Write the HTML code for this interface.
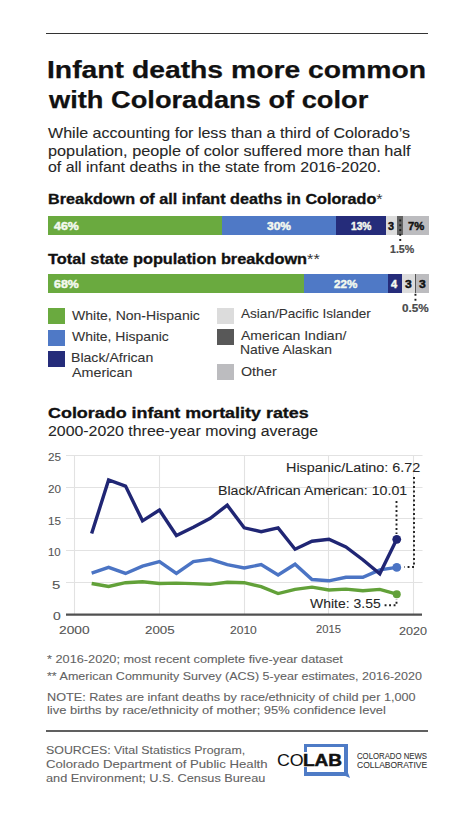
<!DOCTYPE html>
<html><head><meta charset="utf-8"><style>
html,body{margin:0;padding:0;background:#fff;width:474px;height:818px;overflow:hidden;position:relative}
body{font-family:"Liberation Sans",sans-serif}
.t{position:absolute;white-space:nowrap;line-height:0;transform-origin:0 0}
.r{position:absolute}
</style></head><body>
<div class="r" style="left:46.0px;top:32.6px;width:381.50px;height:1.30px;background:#333;"></div>
<div class="r" style="left:47.8px;top:216.3px;width:174.60px;height:18.90px;background:#6aaa3f;"></div>
<div class="r" style="left:221.7px;top:216.3px;width:114.80px;height:18.90px;background:#4f79c6;"></div>
<div class="r" style="left:335.8px;top:216.3px;width:51.30px;height:18.90px;background:#252c7a;"></div>
<div class="r" style="left:386.4px;top:216.3px;width:11.60px;height:18.90px;background:#dcdcdc;"></div>
<div class="r" style="left:397.3px;top:216.3px;width:6.50px;height:18.90px;background:#626262;"></div>
<div class="r" style="left:403.1px;top:216.3px;width:26.20px;height:18.90px;background:#bcbcbf;"></div>
<div class="r" style="left:47.8px;top:274.2px;width:257.30px;height:18.50px;background:#6aaa3f;"></div>
<div class="r" style="left:304.4px;top:274.2px;width:83.80px;height:18.50px;background:#4f79c6;"></div>
<div class="r" style="left:387.5px;top:274.2px;width:14.70px;height:18.50px;background:#252c7a;"></div>
<div class="r" style="left:401.5px;top:274.2px;width:14.20px;height:18.50px;background:#dcdcdc;"></div>
<div class="r" style="left:414.8px;top:274.2px;width:2.20px;height:18.50px;background:#555;"></div>
<div class="r" style="left:416.3px;top:274.2px;width:12.50px;height:18.50px;background:#bcbcbf;"></div>
<div class="r" style="left:47.8px;top:308.0px;width:17.00px;height:16.00px;background:#6aaa3f;"></div>
<div class="r" style="left:47.8px;top:329.5px;width:17.00px;height:16.00px;background:#4f79c6;"></div>
<div class="r" style="left:47.8px;top:351.0px;width:17.00px;height:16.00px;background:#252c7a;"></div>
<div class="r" style="left:216.6px;top:307.8px;width:17.00px;height:16.00px;background:#dcdcdc;"></div>
<div class="r" style="left:216.6px;top:328.8px;width:17.00px;height:16.00px;background:#585858;"></div>
<div class="r" style="left:216.6px;top:363.6px;width:17.00px;height:16.00px;background:#bcbcbf;"></div>
<div class="r" style="left:303.6px;top:743.7px;width:44.10px;height:3.30px;background:#4e7bc6;"></div>
<div class="r" style="left:344.2px;top:743.7px;width:3.50px;height:31.90px;background:#4e7bc6;"></div>
<div class="r" style="left:303.6px;top:772.1px;width:44.10px;height:3.50px;background:#4e7bc6;"></div>
<div class="r" style="left:303.6px;top:743.7px;width:3.30px;height:8.80px;background:#4e7bc6;"></div>
<div class="r" style="left:303.6px;top:767.0px;width:3.30px;height:8.60px;background:#4e7bc6;"></div>
<div class="r" style="left:46.4px;top:729.9px;width:381.60px;height:2.10px;background:#606060;"></div>
<svg class="r" style="left:0;top:0" width="474" height="818" viewBox="0 0 474 818">
<line x1="66" x2="422.5" y1="582.5" y2="582.5" stroke="#e2e2e2" stroke-width="1.1"/>
<line x1="66" x2="422.5" y1="550.5" y2="550.5" stroke="#e2e2e2" stroke-width="1.1"/>
<line x1="66" x2="422.5" y1="518.5" y2="518.5" stroke="#e2e2e2" stroke-width="1.1"/>
<line x1="66" x2="422.5" y1="487.5" y2="487.5" stroke="#e2e2e2" stroke-width="1.1"/>
<line x1="66" x2="422.5" y1="455.5" y2="455.5" stroke="#e2e2e2" stroke-width="1.1"/>
<line x1="74.5" x2="74.5" y1="455.10" y2="614.60" stroke="#e2e2e2" stroke-width="1.1"/>
<line x1="159.5" x2="159.5" y1="455.10" y2="614.60" stroke="#e2e2e2" stroke-width="1.1"/>
<line x1="244.5" x2="244.5" y1="455.10" y2="614.60" stroke="#e2e2e2" stroke-width="1.1"/>
<line x1="328.5" x2="328.5" y1="455.10" y2="614.60" stroke="#e2e2e2" stroke-width="1.1"/>
<line x1="413.5" x2="413.5" y1="455.10" y2="614.60" stroke="#e2e2e2" stroke-width="1.1"/>
<line x1="66" x2="422" y1="614.60" y2="614.60" stroke="#505050" stroke-width="2.4"/>
<polyline fill="none" stroke="#62a139" stroke-width="3.4" stroke-linejoin="miter" stroke-miterlimit="3" points="91.65,583.53 108.60,586.53 125.55,582.70 142.50,581.74 159.45,583.53 176.40,583.15 193.35,583.66 210.30,584.42 227.25,582.32 244.20,582.70 261.15,586.72 278.10,593.55 295.05,589.40 312.00,587.17 328.95,590.04 345.90,589.08 362.85,590.68 379.80,589.40 396.75,594.18"/>
<polyline fill="none" stroke="#4b74c4" stroke-width="3.4" stroke-linejoin="miter" stroke-miterlimit="3" points="91.65,573.13 108.60,567.39 125.55,573.45 142.50,566.11 159.45,561.65 176.40,573.45 193.35,561.65 210.30,559.29 227.25,564.58 244.20,568.03 261.15,564.58 278.10,575.04 295.05,564.20 312.00,579.51 328.95,580.79 345.90,577.28 362.85,577.28 379.80,569.94 396.75,567.39"/>
<polyline fill="none" stroke="#202674" stroke-width="3.4" stroke-linejoin="miter" stroke-miterlimit="3" points="91.65,533.57 108.60,479.98 125.55,486.04 142.50,520.81 159.45,509.97 176.40,535.49 193.35,527.19 210.30,518.26 227.25,505.18 244.20,527.83 261.15,531.66 278.10,527.83 295.05,549.21 312.00,541.23 328.95,539.32 345.90,546.97 362.85,559.73 379.80,573.77 396.75,539.32"/>
<circle cx="396.75" cy="594.18" r="4.0" fill="#62a139"/>
<circle cx="396.75" cy="567.39" r="4.4" fill="#4b74c4"/>
<circle cx="396.75" cy="539.32" r="4.4" fill="#202674"/>
<polyline stroke="#222" stroke-width="1.9" stroke-dasharray="1.9 2.6" fill="none" points="396.5,501 396.5,534"/>
<polyline stroke="#222" stroke-width="1.9" stroke-dasharray="1.9 2.6" fill="none" points="414,477 414,567 404.5,567"/>
<polyline stroke="#222" stroke-width="1.9" stroke-dasharray="1.9 2.6" fill="none" points="384.6,605.3 396.5,605.3 396.5,599"/>
<rect x="399.3" y="219.5" width="1.9" height="1.9" fill="#1a1a1a"/>
<rect x="399.3" y="224.3" width="1.9" height="1.9" fill="#1a1a1a"/>
<rect x="399.3" y="229.1" width="1.9" height="1.9" fill="#1a1a1a"/>
<rect x="399.3" y="233.9" width="1.9" height="1.9" fill="#1a1a1a"/>
<rect x="399.3" y="239.0" width="1.9" height="1.9" fill="#1a1a1a"/>
<rect x="414.5" y="293.8" width="1.9" height="1.9" fill="#1a1a1a"/>
<rect x="414.5" y="298.8" width="1.9" height="1.9" fill="#1a1a1a"/>
<polygon points="344.2,774 347.7,772 350,778 344.2,775.6" fill="#4e7bc6"/>
</svg>
<!--LABELS-->
<div class="t" style="left:46.82px;top:70.28px;font-size:24px;font-weight:700;color:#111;transform:scaleX(1.1792);-webkit-text-stroke:0.25px #111">Infant deaths more common</div>
<div class="t" style="left:49.13px;top:100.28px;font-size:24px;font-weight:700;color:#111;transform:scaleX(1.1347);-webkit-text-stroke:0.25px #111">with Coloradans of color</div>
<div class="t" style="left:47.60px;top:133.38px;font-size:13.9px;font-weight:400;color:#262626;transform:scaleX(1.1555);-webkit-text-stroke:0.08px #262626">While accounting for less than a third of Colorado’s</div>
<div class="t" style="left:47.60px;top:150.58px;font-size:13.9px;font-weight:400;color:#262626;transform:scaleX(1.1717);-webkit-text-stroke:0.08px #262626">population, people of color suffered more than half</div>
<div class="t" style="left:47.60px;top:167.48px;font-size:13.9px;font-weight:400;color:#262626;transform:scaleX(1.1465);-webkit-text-stroke:0.08px #262626">of all infant deaths in the state from 2016-2020.</div>
<div class="t" style="left:47.50px;top:200.12px;font-size:13.8px;font-weight:700;color:#111;transform:scaleX(1.1701);-webkit-text-stroke:0.3px #111">Breakdown of all infant deaths in Colorado<span style="font-weight:400;-webkit-text-stroke:0;color:#333">*</span></div>
<div class="t" style="left:47.50px;top:260.22px;font-size:13.8px;font-weight:700;color:#111;transform:scaleX(1.1830);-webkit-text-stroke:0.3px #111">Total state population breakdown<span style="font-weight:400;-webkit-text-stroke:0;color:#333">**</span></div>
<div class="t" style="left:72.00px;top:315.77px;font-size:12.2px;font-weight:400;color:#333;transform:scaleX(1.1506);-webkit-text-stroke:0.08px #333">White, Non-Hispanic</div>
<div class="t" style="left:72.00px;top:336.77px;font-size:12.2px;font-weight:400;color:#333;transform:scaleX(1.1434);-webkit-text-stroke:0.08px #333">White, Hispanic</div>
<div class="t" style="left:70.84px;top:358.27px;font-size:12.2px;font-weight:400;color:#333;transform:scaleX(1.1566);-webkit-text-stroke:0.08px #333">Black/African</div>
<div class="t" style="left:72.00px;top:372.67px;font-size:12.2px;font-weight:400;color:#333;transform:scaleX(1.1736);-webkit-text-stroke:0.08px #333">American</div>
<div class="t" style="left:241.30px;top:313.97px;font-size:12.2px;font-weight:400;color:#333;transform:scaleX(1.1137);-webkit-text-stroke:0.08px #333">Asian/Pacific Islander</div>
<div class="t" style="left:241.30px;top:335.77px;font-size:12.2px;font-weight:400;color:#333;transform:scaleX(1.1524);-webkit-text-stroke:0.08px #333">American Indian/</div>
<div class="t" style="left:240.16px;top:349.77px;font-size:12.2px;font-weight:400;color:#333;transform:scaleX(1.1395);-webkit-text-stroke:0.08px #333">Native Alaskan</div>
<div class="t" style="left:241.30px;top:371.97px;font-size:12.2px;font-weight:400;color:#333;transform:scaleX(1.1735);-webkit-text-stroke:0.08px #333">Other</div>
<div class="t" style="left:47.60px;top:413.38px;font-size:14.2px;font-weight:700;color:#111;transform:scaleX(1.2625);-webkit-text-stroke:0.3px #111">Colorado infant mortality rates</div>
<div class="t" style="left:47.60px;top:431.15px;font-size:14.0px;font-weight:400;color:#262626;transform:scaleX(1.1344);-webkit-text-stroke:0.08px #262626">2000-2020 three-year moving average</div>
<div class="t" style="left:285.65px;top:467.67px;font-size:12.5px;font-weight:400;color:#262626;transform:scaleX(1.1504);-webkit-text-stroke:0.08px #262626">Hispanic/Latino: 6.72</div>
<div class="t" style="left:217.57px;top:491.37px;font-size:12.5px;font-weight:400;color:#262626;transform:scaleX(1.1346);-webkit-text-stroke:0.08px #262626">Black/African American: 10.01</div>
<div class="t" style="left:309.70px;top:604.27px;font-size:12.5px;font-weight:400;color:#262626;transform:scaleX(1.1205);-webkit-text-stroke:0.08px #262626">White: 3.55</div>
<div class="t" style="left:47.00px;top:658.89px;font-size:11px;font-weight:400;color:#626262;transform:scaleX(1.1576);-webkit-text-stroke:0.08px #626262">* 2016-2020; most recent complete five-year dataset</div>
<div class="t" style="left:47.00px;top:675.89px;font-size:11px;font-weight:400;color:#626262;transform:scaleX(1.1378);-webkit-text-stroke:0.08px #626262">** American Community Survey (ACS) 5-year estimates, 2016-2020</div>
<div class="t" style="left:46.60px;top:696.89px;font-size:11px;font-weight:400;color:#626262;transform:scaleX(1.1503);-webkit-text-stroke:0.08px #626262">NOTE: Rates are infant deaths by race/ethnicity of child per 1,000</div>
<div class="t" style="left:46.60px;top:710.09px;font-size:11px;font-weight:400;color:#626262;transform:scaleX(1.1744);-webkit-text-stroke:0.08px #626262">live births by race/ethnicity of mother; 95% confidence level</div>
<div class="t" style="left:46.30px;top:750.48px;font-size:11.3px;font-weight:400;color:#626262;transform:scaleX(1.0952);-webkit-text-stroke:0.08px #626262">SOURCES: Vital Statistics Program,</div>
<div class="t" style="left:46.30px;top:764.18px;font-size:11.3px;font-weight:400;color:#626262;transform:scaleX(1.1643);-webkit-text-stroke:0.08px #626262">Colorado Department of Public Health</div>
<div class="t" style="left:46.30px;top:777.58px;font-size:11.3px;font-weight:400;color:#626262;transform:scaleX(1.1267);-webkit-text-stroke:0.08px #626262">and Environment; U.S. Census Bureau</div>
<div class="t" style="left:356.50px;top:756.09px;font-size:8.4px;font-weight:400;color:#333;transform:scaleX(0.9288);-webkit-text-stroke:0.08px #333">COLORADO NEWS</div>
<div class="t" style="left:356.50px;top:764.89px;font-size:8.4px;font-weight:400;color:#333;transform:scaleX(1.0129);-webkit-text-stroke:0.08px #333">COLLABORATIVE</div>
<div class="t" style="left:54.10px;top:226.42px;font-size:11.2px;font-weight:700;color:#f4f9ef;transform:scaleX(1.1050);-webkit-text-stroke:0.45px #f4f9ef">46%</div>
<div class="t" style="left:267.00px;top:226.32px;font-size:11.2px;font-weight:700;color:#f4f9ef;transform:scaleX(1.0693);-webkit-text-stroke:0.45px #f4f9ef">30%</div>
<div class="t" style="left:351.30px;top:226.32px;font-size:11.2px;font-weight:700;color:#f4f9ef;transform:scaleX(0.9134);-webkit-text-stroke:0.45px #f4f9ef">13%</div>
<div class="t" style="left:388.00px;top:226.32px;font-size:11.2px;font-weight:700;color:#111;transform:scaleX(0.9667);-webkit-text-stroke:0.45px #111">3</div>
<div class="t" style="left:407.70px;top:226.32px;font-size:11.2px;font-weight:700;color:#111;transform:scaleX(1.0048);-webkit-text-stroke:0.45px #111">7%</div>
<div class="t" style="left:54.10px;top:283.62px;font-size:11.2px;font-weight:700;color:#f4f9ef;transform:scaleX(1.1050);-webkit-text-stroke:0.45px #f4f9ef">68%</div>
<div class="t" style="left:334.30px;top:283.62px;font-size:11.2px;font-weight:700;color:#f4f9ef;transform:scaleX(1.0381);-webkit-text-stroke:0.45px #f4f9ef">22%</div>
<div class="t" style="left:390.80px;top:283.62px;font-size:11.2px;font-weight:700;color:#f4f9ef;transform:scaleX(0.9857);-webkit-text-stroke:0.45px #f4f9ef">4</div>
<div class="t" style="left:404.70px;top:283.62px;font-size:11.2px;font-weight:700;color:#111;transform:scaleX(1.0833);-webkit-text-stroke:0.45px #111">3</div>
<div class="t" style="left:418.60px;top:283.62px;font-size:11.2px;font-weight:700;color:#111;transform:scaleX(1.0833);-webkit-text-stroke:0.45px #111">3</div>
<div class="t" style="left:389.90px;top:248.55px;font-size:11.4px;font-weight:700;color:#4a4a4a;transform:scaleX(0.9329);-webkit-text-stroke:0.2px #4a4a4a">1.5%</div>
<div class="t" style="left:402.00px;top:307.95px;font-size:11.4px;font-weight:700;color:#4a4a4a;transform:scaleX(1.0296);-webkit-text-stroke:0.2px #4a4a4a">0.5%</div>
<div class="t" style="left:47.60px;top:456.88px;font-size:11.3px;font-weight:400;color:#555;transform:scaleX(1.0340);-webkit-text-stroke:0.1px #555">25</div>
<div class="t" style="left:47.60px;top:488.88px;font-size:11.3px;font-weight:400;color:#555;transform:scaleX(1.0340);-webkit-text-stroke:0.1px #555">20</div>
<div class="t" style="left:47.60px;top:520.78px;font-size:11.3px;font-weight:400;color:#555;transform:scaleX(1.0340);-webkit-text-stroke:0.1px #555">15</div>
<div class="t" style="left:48.30px;top:552.48px;font-size:11.3px;font-weight:400;color:#555;transform:scaleX(1.0095);-webkit-text-stroke:0.1px #555">10</div>
<div class="t" style="left:52.40px;top:584.68px;font-size:11.3px;font-weight:400;color:#555;transform:scaleX(1.3167);-webkit-text-stroke:0.1px #555">5</div>
<div class="t" style="left:53.30px;top:616.38px;font-size:11.3px;font-weight:400;color:#555;transform:scaleX(1.2333);-webkit-text-stroke:0.1px #555">0</div>
<div class="t" style="left:59.30px;top:629.68px;font-size:11.3px;font-weight:400;color:#555;transform:scaleX(1.2154);-webkit-text-stroke:0.1px #555">2000</div>
<div class="t" style="left:145.10px;top:629.68px;font-size:11.3px;font-weight:400;color:#555;transform:scaleX(1.1792);-webkit-text-stroke:0.1px #555">2005</div>
<div class="t" style="left:230.00px;top:629.68px;font-size:11.3px;font-weight:400;color:#555;transform:scaleX(1.0665);-webkit-text-stroke:0.1px #555">2010</div>
<div class="t" style="left:315.80px;top:629.38px;font-size:11.3px;font-weight:400;color:#555;transform:scaleX(0.9940);-webkit-text-stroke:0.1px #555">2015</div>
<div class="t" style="left:398.60px;top:630.58px;font-size:11.3px;font-weight:400;color:#555;transform:scaleX(1.1148);-webkit-text-stroke:0.1px #555">2020</div>
<div class="t" style="left:277.00px;top:759.95px;font-size:16.3px;font-weight:400;color:#111;transform:scaleX(1.0944);-webkit-text-stroke:0px #111">CO</div>
<div class="t" style="left:302.85px;top:759.88px;font-size:16.5px;font-weight:700;color:#111;transform:scaleX(1.1517);-webkit-text-stroke:0.5px #111">LAB</div>
</body></html>
